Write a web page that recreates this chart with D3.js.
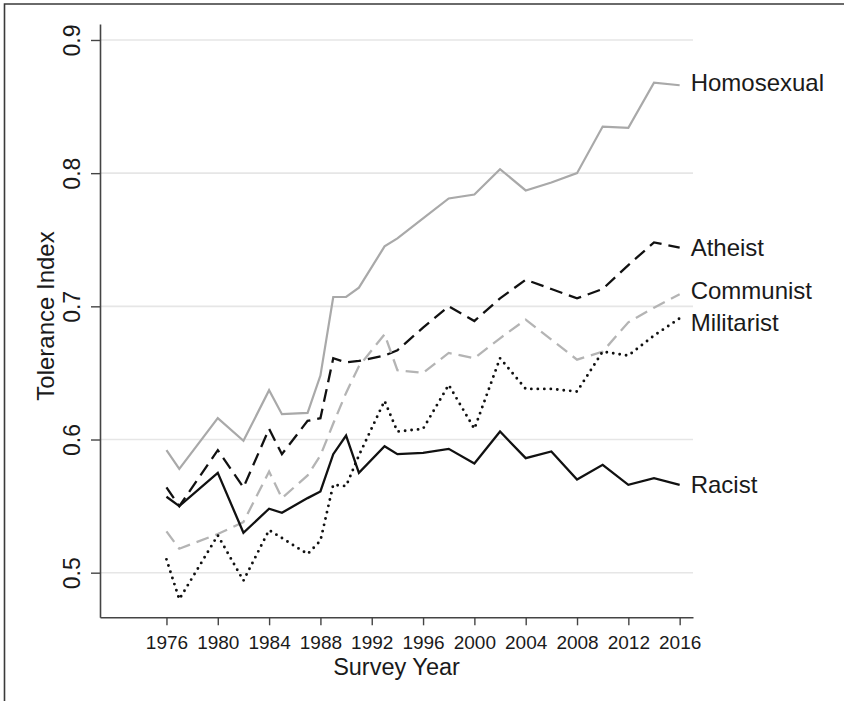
<!DOCTYPE html>
<html>
<head>
<meta charset="utf-8">
<script src="https://cdn.jsdelivr.net/npm/d3@7/dist/d3.min.js"></script>
<style>
  html, body { margin: 0; padding: 0; background: #fff; }
  svg { display: block; font-family: "Liberation Sans", Arial, Helvetica, sans-serif; }
</style>
</head>
<body>
<svg id="chart" width="844" height="701"></svg>
<script>
// GSS survey years
const years = [1976, 1977, 1980, 1982, 1984, 1985, 1987, 1988, 1989, 1990, 1991, 1993,
               1994, 1996, 1998, 2000, 2002, 2004, 2006, 2008, 2010, 2012, 2014, 2016];

// Tolerance index per target group
const homosexual = [0.592, 0.578, 0.616, 0.599, 0.637, 0.619, 0.620, 0.648, 0.707, 0.707, 0.714, 0.745,
                    0.751, 0.766, 0.781, 0.784, 0.803, 0.787, 0.793, 0.800, 0.835, 0.834, 0.868, 0.866];
const atheist    = [0.564, 0.550, 0.592, 0.564, 0.608, 0.589, 0.614, 0.616, 0.661, 0.658, 0.659, 0.663,
                    0.667, 0.684, 0.700, 0.689, 0.706, 0.720, 0.713, 0.706, 0.713, 0.731, 0.748, 0.744];
const communist  = [0.531, 0.518, 0.529, 0.538, 0.576, 0.556, 0.573, 0.588, 0.612, 0.635, 0.655, 0.679,
                    0.652, 0.650, 0.665, 0.661, 0.676, 0.690, 0.675, 0.660, 0.666, 0.688, 0.699, 0.709];
const militarist = [0.510, 0.480, 0.528, 0.494, 0.532, 0.526, 0.514, 0.524, 0.566, 0.565, 0.588, 0.629,
                    0.606, 0.608, 0.641, 0.608, 0.661, 0.638, 0.638, 0.636, 0.666, 0.663, 0.678, 0.691];
const racist     = [0.557, 0.550, 0.575, 0.530, 0.548, 0.545, 0.556, 0.561, 0.589, 0.603, 0.575, 0.595,
                    0.589, 0.590, 0.593, 0.582, 0.606, 0.586, 0.591, 0.570, 0.581, 0.566, 0.571, 0.566];

// Axis ticks
const xTicks = [1976, 1980, 1984, 1988, 1992, 1996, 2000, 2004, 2008, 2012, 2016];
const yTicks = [0.5, 0.6, 0.7, 0.8, 0.9];

// Series labels and the index value each label sits beside
const seriesNames = ["Homosexual", "Atheist", "Communist", "Militarist", "Racist"];
const labelAt     = [0.868, 0.744, 0.712, 0.688, 0.566];

const seriesValues = [homosexual, atheist, communist, militarist, racist];
const seriesStyle = [
  { color: "#a9a9a9", width: 2.2, dash: null,   cap: "butt" },
  { color: "#111111", width: 2.3, dash: "13,7", cap: "butt" },
  { color: "#b4b4b4", width: 2.3, dash: "13,7", cap: "butt" },
  { color: "#111111", width: 2.9, dash: "0,6.5", cap: "round" },
  { color: "#111111", width: 2.3, dash: null,   cap: "butt" }
];

const svg = d3.select("#chart");

// Plot region
const plotLeft = 100, plotRight = 693, plotTop = 24, plotBottom = 617.3;

const x = d3.scaleLinear().domain([1970.82, 2017.04]).range([plotLeft, plotRight]);
const y = d3.scaleLinear().domain([0.4665, 0.912]).range([plotBottom, plotTop]);

// Figure frame
svg.append("path")
  .attr("d", "M4.5,701 V4 H844")
  .attr("fill", "none")
  .attr("stroke", "#3a3a3a")
  .attr("stroke-width", 1.6);

// Horizontal gridlines
svg.append("g")
  .selectAll("line")
  .data(yTicks)
  .join("line")
  .attr("x1", plotLeft)
  .attr("x2", plotRight)
  .attr("y1", d => y(d))
  .attr("y2", d => y(d))
  .attr("stroke", "#e6e6e6")
  .attr("stroke-width", 1.6);

// Series lines
const line = d3.line()
  .x((d, i) => x(years[i]))
  .y(d => y(d));

svg.append("g")
  .selectAll("path")
  .data(seriesValues)
  .join("path")
  .attr("d", d => line(d))
  .attr("fill", "none")
  .attr("stroke", (d, i) => seriesStyle[i].color)
  .attr("stroke-width", (d, i) => seriesStyle[i].width)
  .attr("stroke-dasharray", (d, i) => seriesStyle[i].dash)
  .attr("stroke-linecap", (d, i) => seriesStyle[i].cap)
  .attr("stroke-linejoin", "miter");

// Y axis
const yAxis = svg.append("g")
  .attr("transform", `translate(${plotLeft},0)`)
  .call(d3.axisLeft(y).tickValues(yTicks).tickFormat(d3.format(".1f")).tickSize(9).tickSizeOuter(0));

yAxis.select(".domain").attr("stroke", "#444").attr("stroke-width", 1.6);
yAxis.selectAll(".tick line").attr("stroke", "#444").attr("stroke-width", 1.4);
yAxis.selectAll(".tick text")
  .attr("x", null)
  .attr("dy", null)
  .attr("transform", "translate(-20,0) rotate(-90)")
  .attr("text-anchor", "middle")
  .attr("fill", "#1a1a1a")
  .style("font-size", "23px")
  .style("font-family", "\"Liberation Sans\", Arial, sans-serif");

// X axis
const xAxis = svg.append("g")
  .attr("transform", `translate(0,${plotBottom})`)
  .call(d3.axisBottom(x).tickValues(xTicks).tickFormat(d3.format("d")).tickSize(8).tickSizeOuter(0));

xAxis.select(".domain").attr("stroke", "#444").attr("stroke-width", 1.6);
xAxis.selectAll(".tick line").attr("stroke", "#444").attr("stroke-width", 1.4);
xAxis.selectAll(".tick text")
  .attr("y", 32)
  .attr("dy", null)
  .attr("fill", "#1a1a1a")
  .style("font-size", "19px")
  .style("font-family", "\"Liberation Sans\", Arial, sans-serif");

// Axis titles
svg.append("text")
  .attr("x", (plotLeft + plotRight) / 2)
  .attr("y", 675)
  .attr("text-anchor", "middle")
  .attr("fill", "#1a1a1a")
  .style("font-size", "23.5px")
  .text("Survey Year");

svg.append("text")
  .attr("transform", "translate(54,316) rotate(-90)")
  .attr("text-anchor", "middle")
  .attr("fill", "#1a1a1a")
  .style("font-size", "24px")
  .text("Tolerance Index");

// Series labels at the right end of each line
svg.append("g")
  .selectAll("text")
  .data(seriesNames)
  .join("text")
  .attr("x", x(2016) + 11)
  .attr("y", (d, i) => y(labelAt[i]))
  .attr("dy", "0.35em")
  .attr("fill", "#1a1a1a")
  .style("font-size", "24px")
  .text(d => d);
</script>
</body>
</html>
